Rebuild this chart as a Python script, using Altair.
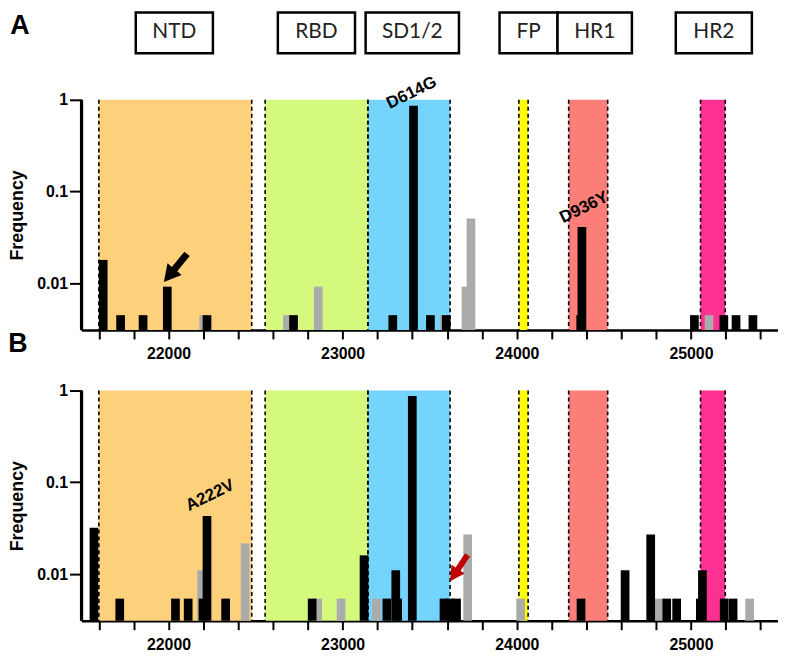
import altair as alt
import pandas as pd

# ---------------- data (nucleotide position in genome, mutation frequency) ----------------
# Panel A
a_black_pos = [21625, 21725, 21854, 21993, 22221, 22718, 23288, 23407, 23504, 23595,
               24367, 24374, 25020, 25189, 25259, 25356]
a_black_freq = [0.018, 0.0045, 0.0045, 0.0092, 0.0045, 0.0045, 0.0045, 0.86, 0.0045, 0.0045,
                0.0045, 0.041, 0.0045, 0.0045, 0.0045, 0.0045]
a_grey_pos = [22202, 22683, 22860, 23584, 23708, 23737, 25104]
a_grey_freq = [0.0045, 0.0045, 0.0092, 0.0045, 0.0092, 0.051, 0.0045]

# Panel B
b_black_pos = [21572, 21720, 22040, 22113, 22198, 22221, 22328, 22825, 23123, 23254,
               23305, 23316, 23400, 23582, 23618, 23654, 24369, 24622, 24769, 24861,
               24918, 25054, 25066, 25191, 25242]
b_black_freq = [0.032, 0.0054, 0.0054, 0.0054, 0.0054, 0.043, 0.0054, 0.0054, 0.016, 0.0054,
                0.011, 0.0054, 0.87, 0.0054, 0.0054, 0.0054, 0.0054, 0.011, 0.027, 0.0054,
                0.0054, 0.0054, 0.011, 0.0054, 0.0054]
b_grey_pos = [22190, 22440, 22856, 22991, 23194, 23718, 24022, 24812, 25337]
b_grey_freq = [0.011, 0.0216, 0.0054, 0.0054, 0.0054, 0.027, 0.0054, 0.0054, 0.0054]

# Spike domains (shaded regions)
regions = ["NTD", "RBD", "SD1/2", "FP", "HR1", "HR2"]
region_start = [21600, 22555, 23145, 24012, 24298, 25055]
region_end = [22478, 23145, 23617, 24065, 24522, 25197]
region_colors = ["#FDD17B", "#D5F97C", "#74D4FB", "#FFFF00", "#FB7F78", "#FC3192"]

# Domain label boxes on top (genome coordinate span of each box)
box_labels = ["NTD", "RBD", "SD1/2", "FP", "HR1", "HR2"]
box_start = [21812, 22628, 23132, 23901, 24234, 24913]
box_end = [22255, 23071, 23668, 24234, 24661, 25350]

# Mutation annotations
a_ann_label = ["D614G", "D936Y"]
a_ann_pos = [23396, 24386]
a_ann_freq = [1.19, 0.067]
b_ann_label = ["A222V"]
b_ann_pos = [22239]
b_ann_freq = [0.072]

# Arrows (centre position, centre frequency)
a_arrow_pos = [22040]
a_arrow_freq = [0.0147]
b_arrow_pos = [23667]
b_arrow_freq = [0.0116]

# ---------------- chart ----------------
XMIN, XMAX = 21500, 25500
YMIN, YMAX = 0.0031, 1.0
W, H = 702, 232
HALF = 25  # half bar width in nucleotides
FONT = "Liberation Sans"

xs = alt.Scale(domain=[XMIN, XMAX], nice=False, zero=False)
ys = alt.Scale(type="log", domain=[YMIN, YMAX], nice=False)

x_axis = alt.Axis(values=list(range(21600, 25401, 200)),
                  labelExpr="datum.value % 1000 === 0 ? format(datum.value, 'd') : ''",
                  tickSize=9, labelPadding=7, title=None, labelFlush=False,
                  labelOverlap=False, grid=False, domain=True)
y_axis = alt.Axis(values=[0.01, 0.1, 1], format="~g", tickSize=12, labelPadding=2,
                  title="Frequency", titleFontSize=18, titleFont=FONT,
                  titleFontWeight="bold", titlePadding=10, titleColor="black",
                  labelFlush=False, grid=False, domain=True)

regions_df = pd.DataFrame({"region": regions, "start": region_start, "end": region_end})
bounds_df = pd.DataFrame({"pos": region_start + region_end})
boxes_df = pd.DataFrame({"label": box_labels, "start": box_start, "end": box_end})

ARROW = "M0,-1 L0.5,-0.08 L0.19,-0.08 L0.19,1 L-0.19,1 L-0.19,-0.08 L-0.5,-0.08 Z"


def bars(pos, freq, color):
    return alt.Chart(pd.DataFrame({"pos": pos, "freq": freq})).transform_calculate(
        lo=f"datum.pos - {HALF}", hi=f"datum.pos + {HALF}"
    ).mark_rect(color=color).encode(
        x=alt.X("lo:Q", scale=xs, axis=x_axis), x2="hi:Q",
        y=alt.Y("freq:Q", scale=ys, axis=y_axis), y2=alt.datum(YMIN))


def panel(black_pos, black_freq, grey_pos, grey_freq, ann_lab, ann_pos, ann_freq,
          arr_pos, arr_freq, arr_color, arr_size, arr_angle, letter, letter_x, letter_y,
          with_boxes):
    X = lambda f: alt.X(f, scale=xs, axis=x_axis)
    Y = lambda f: alt.Y(f, scale=ys, axis=y_axis)

    shade = alt.Chart(regions_df).mark_rect().encode(
        x=X("start:Q"), x2="end:Q", y=alt.value(0), y2=alt.value(H),
        color=alt.Color("region:N", scale=alt.Scale(domain=regions, range=region_colors),
                        legend=None))
    dashes = alt.Chart(bounds_df).mark_rule(strokeDash=[4, 3], strokeWidth=1.6,
                                            color="black").encode(
        x=X("pos:Q"), y=alt.value(0), y2=alt.value(H))
    # vertical axis line of the frequency axis
    yline = alt.Chart(pd.DataFrame({"v": [YMAX]})).mark_rule(
        color="#000000", strokeWidth=3, opacity=1).encode(
        x=alt.value(0), y=alt.value(0), y2=alt.value(H))
    grey = bars(grey_pos, grey_freq, "#ABABAB")
    black = bars(black_pos, black_freq, "black")
    ann = alt.Chart(pd.DataFrame({"pos": ann_pos, "freq": ann_freq, "label": ann_lab})).mark_text(
        font=FONT, fontWeight="bold", fontSize=17, angle=334, color="black",
        align="center", baseline="middle").encode(x=X("pos:Q"), y=Y("freq:Q"), text="label:N")
    arrow = alt.Chart(pd.DataFrame({"pos": arr_pos, "freq": arr_freq})).mark_point(
        shape=ARROW, filled=True, size=arr_size, angle=arr_angle, color=arr_color,
        opacity=1, strokeWidth=0).encode(x=X("pos:Q"), y=Y("freq:Q"))
    let = alt.Chart(pd.DataFrame({"t": [letter]})).mark_text(
        font=FONT, fontWeight="bold", fontSize=27, color="black", align="center",
        baseline="alphabetic").encode(x=alt.value(letter_x), y=alt.value(letter_y), text="t:N")
    layers = [shade, dashes, yline, grey, black, ann, arrow, let]
    if with_boxes:
        boxes = alt.Chart(boxes_df).mark_rect(fill="white", stroke="black",
                                              strokeWidth=2.5).encode(
            x=X("start:Q"), x2="end:Q", y=alt.value(-88), y2=alt.value(-47))
        box_txt = alt.Chart(boxes_df).transform_calculate(
            mid="(datum.start + datum.end) / 2").mark_text(
            font="Lato", fontSize=21, color="#222222", baseline="alphabetic",
            align="center").encode(x=X("mid:Q"), y=alt.value(-62), text="label:N")
        layers += [boxes, box_txt]
    return alt.layer(*layers).properties(width=W, height=H)


pa = panel(a_black_pos, a_black_freq, a_grey_pos, a_grey_freq, a_ann_label, a_ann_pos,
           a_ann_freq, a_arrow_pos, a_arrow_freq, "black", 1354, 219.5, "A", -62, -66, True)
pb = panel(b_black_pos, b_black_freq, b_grey_pos, b_grey_freq, b_ann_label, b_ann_pos,
           b_ann_freq, b_arrow_pos, b_arrow_freq, "#C00000", 1020, 213.5, "B", -64, -39, False)

chart = alt.vconcat(pa, pb, spacing=61, bounds="flush").properties(
    padding=0
).configure_view(stroke=None).configure_axis(
    domainColor="black", domainWidth=2.5, tickColor="black", tickWidth=2,
    labelFont=FONT, labelFontSize=16, labelFontWeight="bold", labelColor="black"
)

chart.save("out.html", embed_options={"renderer": "svg", "actions": False})
